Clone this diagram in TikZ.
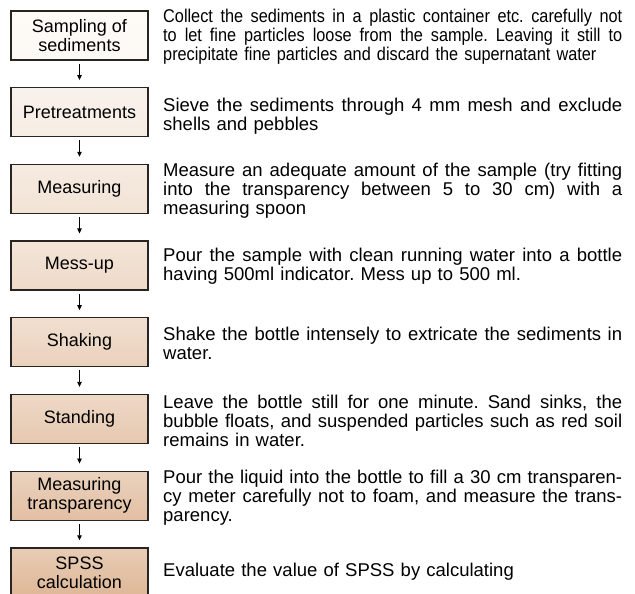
\documentclass[tikz,border=0pt]{standalone}
\usepackage{fontspec}
\setmainfont{Liberation Sans}
\newfontfamily\narrowsans[FakeStretch=0.88]{Liberation Sans}
\usetikzlibrary{arrows.meta}
\newlength\descw
\setlength\descw{459pt}
\newcommand\jl[1]{\makebox[\descw][s]{\spaceskip=0pt\xspaceskip=0pt\relax #1}}
\definecolor{cA}{RGB}{253,249,244}
\definecolor{cB}{RGB}{246,236,227}
\definecolor{cC}{RGB}{242,227,213}
\definecolor{cD}{RGB}{238,218,200}
\definecolor{cE}{RGB}{234,209,188}
\definecolor{cF}{RGB}{230,200,175}
\definecolor{cG}{RGB}{226,191,162}
\definecolor{cH}{RGB}{222,183,150}
\definecolor{edge}{RGB}{40,36,34}
\tikzset{
  stepbox/.style={draw=edge, line width=1.3pt, minimum width=137pt, minimum height=49pt,
    inner sep=1pt, align=center, font=\fontsize{18}{19}\selectfont,
    top color=#1!70!white, bottom color=#1},
  desc/.style={anchor=west, text width=\descw, inner sep=0pt,
    font=\fontsize{18.5}{19}\selectfont\frenchspacing},
  descn/.style={desc, font=\narrowsans\fontsize{18.5}{19}\selectfont\frenchspacing},
  flow/.style={line width=0.8pt, draw=black, -{Triangle[length=5pt,width=4.5pt]},
    shorten <=3pt, shorten >=7pt}
}
\begin{document}
\begin{tikzpicture}[x=1pt,y=-1pt]
\useasboundingbox (0,0) rectangle (635,594);
\clip (0,0) rectangle (635,594);
\fill[white] (0,0) rectangle (635,594);
\node[stepbox=cA] (b1) at (79.5,35.5) {Sampling of\\sediments};
\node[stepbox=cB] (b2) at (79.5,112.2) {Pretreatments};
\node[stepbox=cC] (b3) at (79.5,188.9) {Measuring};
\node[stepbox=cD] (b4) at (79.5,265.6) {Mess-up};
\node[stepbox=cE] (b5) at (79.5,342.3) {Shaking};
\node[stepbox=cF] (b6) at (79.5,419.0) {Standing};
\node[stepbox=cG] (b7) at (79.5,495.7) {Measuring\\transparency};
\node[stepbox=cH] (b8) at (79.5,572.4) {SPSS\\calculation};
\foreach \a/\b in {b1/b2,b2/b3,b3/b4,b4/b5,b5/b6,b6/b7,b7/b8}
  \draw[flow] (\a.south) -- (\b.north);
\node[descn] (d1) at (163,36.5) {\jl{Collect the sediments in a plastic container etc. carefully not}\\\jl{to let fine particles loose from the sample. Leaving it still to}\\precipitate fine particles and discard the supernatant water};
\node[desc] (d2) at (163,116.5) {\jl{Sieve the sediments through 4 mm mesh and exclude}\\shells and pebbles};
\node[desc] (d3) at (163,190.5) {\jl{Measure an adequate amount of the sample (try fitting}\\\jl{into the transparency between 5 to 30 cm) with a}\\measuring spoon};
\node[desc] (d4) at (163,266.6) {\jl{Pour the sample with clean running water into a bottle}\\having 500ml indicator. Mess up to 500 ml.};
\node[desc] (d5) at (163,343.3) {\jl{Shake the bottle intensely to extricate the sediments in}\\water.};
\node[desc] (d6) at (163,421) {\jl{Leave the bottle still for one minute. Sand sinks, the}\\\jl{bubble floats, and suspended particles such as red soil}\\remains in water.};
\node[desc] (d7) at (163,498) {\jl{Pour the liquid into the bottle to fill a 30 cm transparen-}\\\jl{cy meter carefully not to foam, and measure the trans-}\\parency.};
\node[desc] (d8) at (163,572) {Evaluate the value of SPSS by calculating};
\end{tikzpicture}
\end{document}
